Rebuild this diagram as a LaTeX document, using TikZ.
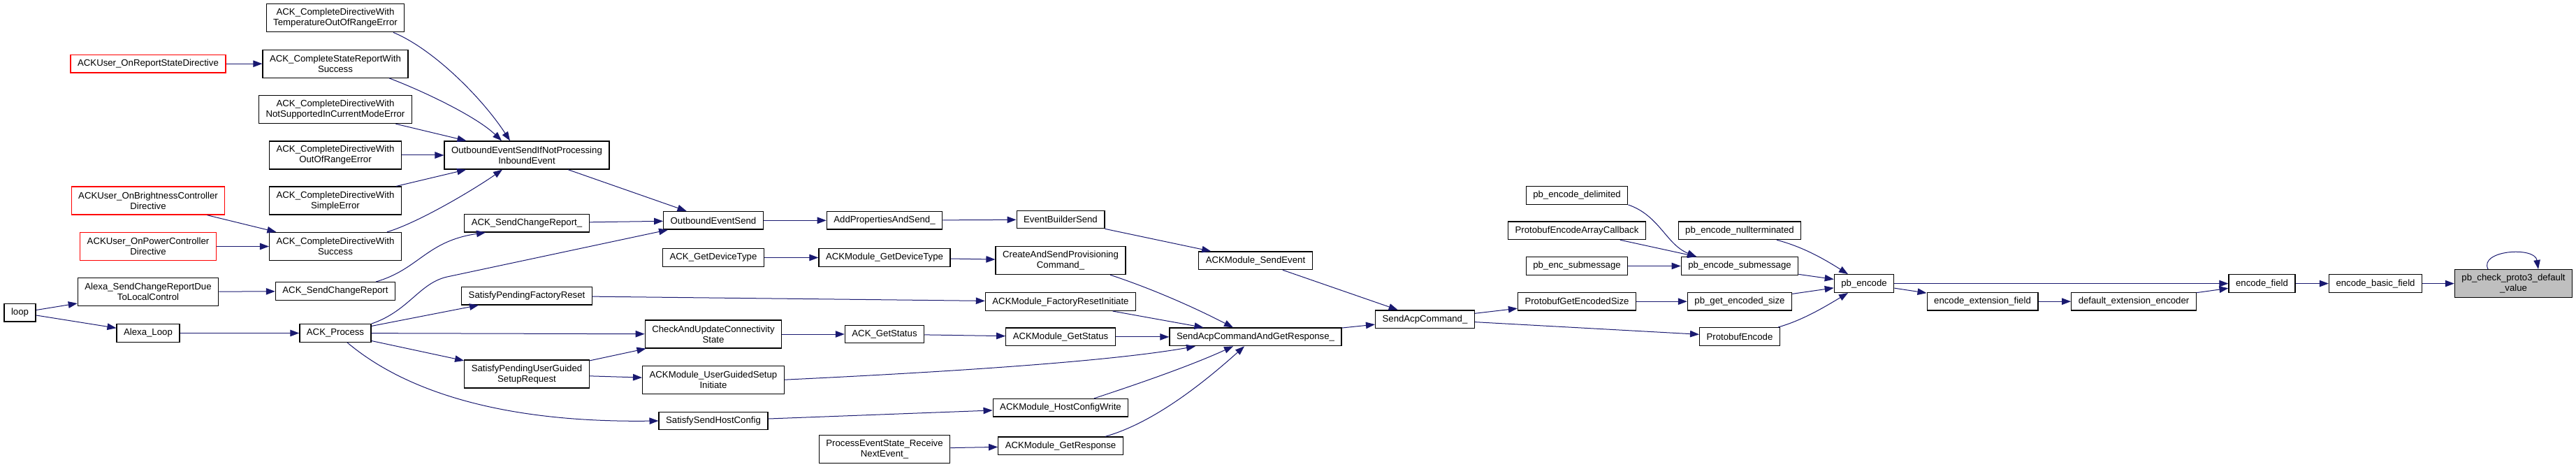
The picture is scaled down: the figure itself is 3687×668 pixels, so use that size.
\documentclass[tikz,border=0pt]{standalone}
\usepackage{fontspec}
\setmainfont{Liberation Sans}
\usepackage{xcolor}
\usepackage{tikz}
\usetikzlibrary{arrows.meta,positioning}
\definecolor{edgeblue}{HTML}{191970}
\definecolor{selgray}{HTML}{BFBFBF}

\begin{document}
\begin{tikzpicture}[x=1pt, y=-1pt, >={Triangle[length=13pt,width=9.5pt]},
  fn/.style={draw=black, line width=1.3pt, fill=white, inner xsep=10pt, inner ysep=3pt,
    minimum height=25.6pt, align=center, font=\fontsize{13.2}{15}\selectfont},
  two/.style={minimum height=40pt},
  fnred/.style={draw=red},
  fnsel/.style={fill=selgray},
  call/.style={->, line width=1pt, draw=edgeblue}]
\useasboundingbox (0,0) rectangle (3687,668);

% Entry point and first callers
\node [fn] (Loop) at (28.5,447.3) {loop};
\node [fn, fnred] (OnRS) at (212,91.2) {ACKUser\_OnReportStateDirective};
\node [fn, two, fnred, below of=OnRS, node distance=195.9pt] (OnBC) {ACKUser\_OnBrightnessController\\Directive};
\node [fn, two, fnred, below of=OnBC, node distance=65.4pt] (OnPC) {ACKUser\_OnPowerController\\Directive};
\node [fn, two, below of=OnPC, node distance=65pt] (ASCRD) {Alexa\_SendChangeReportDue\\ToLocalControl};
\node [fn, below of=ASCRD, node distance=59pt] (ALoop) {Alexa\_Loop};

% ACK_Complete column
\node [fn, two] (CTemp) at (480,25.8) {ACK\_CompleteDirectiveWith\\TemperatureOutOfRangeError};
\node [fn, two, below of=CTemp, node distance=65.4pt] (CSRS) {ACK\_CompleteStateReportWith\\Success};
\node [fn, two, below of=CSRS, node distance=65.4pt] (CNSup) {ACK\_CompleteDirectiveWith\\NotSupportedInCurrentModeError};
\node [fn, two, below of=CNSup, node distance=65.4pt] (COoR) {ACK\_CompleteDirectiveWith\\OutOfRangeError};
\node [fn, two, below of=COoR, node distance=65.1pt] (CSimp) {ACK\_CompleteDirectiveWith\\SimpleError};
\node [fn, two, below of=CSimp, node distance=65.4pt] (CSucc) {ACK\_CompleteDirectiveWith\\Success};
\node [fn, below of=CSucc, node distance=64pt] (SCR) {ACK\_SendChangeReport};
\node [fn, right of=ALoop, node distance=268pt] (Proc) {ACK\_Process};

% Outbound event side
\node [fn, two, right of=COoR, node distance=274pt] (OESIf) {OutboundEventSendIfNotProcessing\\InboundEvent};
\node [fn, below of=OESIf, node distance=97.1pt] (SCRu) {ACK\_SendChangeReport\_};
\node [fn, below of=SCRu, node distance=104pt] (SPFR) {SatisfyPendingFactoryReset};
\node [fn, two, below of=SPFR, node distance=112pt] (SPUG) {SatisfyPendingUserGuided\\SetupRequest};

\node [fn] (OES) at (1021,315.3) {OutboundEventSend};
\node [fn, below of=OES, node distance=53.2pt] (GDT) {ACK\_GetDeviceType};
\node [fn, two, below of=GDT, node distance=109.5pt] (CAU) {CheckAndUpdateConnectivity\\State};
\node [fn, two, below of=CAU, node distance=65.2pt] (UGSI) {ACKModule\_UserGuidedSetup\\Initiate};
\node [fn, below of=UGSI, node distance=58.8pt] (SSHC) {SatisfySendHostConfig};

\node [fn, right of=OES, node distance=245pt] (APS) {AddPropertiesAndSend\_};
\node [fn, right of=GDT, node distance=245pt] (MGDT) {ACKModule\_GetDeviceType};
\node [fn, right of=CAU, node distance=245pt] (GetSt) {ACK\_GetStatus};
\node [fn, two] (PES) at (1266,642.3) {ProcessEventState\_Receive\\NextEvent\_};

% ACKModule column
\node [fn] (EBS) at (1518,314) {EventBuilderSend};
\node [fn, two, below of=EBS, node distance=58.6pt] (CSPC) {CreateAndSendProvisioning\\Command\_};
\node [fn, below of=CSPC, node distance=59pt] (FRI) {ACKModule\_FactoryResetInitiate};
\node [fn, below of=FRI, node distance=50.3pt] (MGetSt) {ACKModule\_GetStatus};
\node [fn, below of=MGetSt, node distance=101.4pt] (HCW) {ACKModule\_HostConfigWrite};
\node [fn, below of=HCW, node distance=54.5pt] (GResp) {ACKModule\_GetResponse};

\node [fn] (MSE) at (1797,372.8) {ACKModule\_SendEvent};
\node [fn, right of=MGetSt, node distance=279pt] (SACGR) {SendAcpCommandAndGetResponse\_};
\node [fn] (SAC) at (2039.5,456.7) {SendAcpCommand\_};

% Encoder side
\node [fn] (PEDel) at (2257,279.5) {pb\_encode\_delimited};
\node [fn, below of=PEDel, node distance=50.3pt] (PEAC) {ProtobufEncodeArrayCallback};
\node [fn, below of=PEAC, node distance=50.7pt] (PEncSub) {pb\_enc\_submessage};
\node [fn, below of=PEncSub, node distance=50.7pt] (PGES) {ProtobufGetEncodedSize};
\node [fn, right of=PEAC, node distance=233pt] (PENull) {pb\_encode\_nullterminated};
\node [fn, right of=PEncSub, node distance=233pt] (PESub) {pb\_encode\_submessage};
\node [fn, right of=PGES, node distance=233pt] (PGetSize) {pb\_get\_encoded\_size};
\node [fn, below of=PGetSize, node distance=50.3pt] (PEnc) {ProtobufEncode};
\node [fn] (PbEnc) at (2668,405.6) {pb\_encode};
\node [fn] (EEF) at (2837.5,431.2) {encode\_extension\_field};
\node [fn, right of=EEF, node distance=216.5pt] (DEE) {default\_extension\_encoder};
\node [fn, right of=PbEnc, node distance=569.5pt] (EF) {encode\_field};
\node [fn, right of=EF, node distance=162.5pt] (EBF) {encode\_basic\_field};
\node [fn, two, fnsel, right of=EBF, node distance=197.5pt] (Check) {pb\_check\_proto3\_default\\\_value};

% Calls from the entry points
\draw[call] (Loop) -- (ASCRD);
\draw[call] (Loop) -- (ALoop);
\draw[call] (ALoop) -- (Proc);
\draw[call] (ASCRD) -- (SCR);
\draw[call] (OnRS) -- (CSRS);
\draw[call] (OnBC) -- (CSucc);
\draw[call] (OnPC) -- (CSucc);

% Into OutboundEventSendIfNotProcessingInboundEvent
\draw[call] ([xshift=83pt]CTemp.south) .. controls (620,70) and (690,140) .. ([xshift=-24pt]OESIf.north);
\draw[call] ([xshift=77pt]CSRS.south) .. controls (600,128) and (680,165) .. ([xshift=-36pt]OESIf.north);
\draw[call] (CNSup) -- (OESIf);
\draw[call] (COoR) -- (OESIf);
\draw[call] (CSimp) -- (OESIf);
\draw[call] ([xshift=74pt]CSucc.north) .. controls (600,318) and (680,270) .. ([xshift=-35pt]OESIf.south);

% Out of ACK_Process
\draw[call] ([xshift=58pt]SCR.north) .. controls (600,385) and (610,345) .. ([xshift=-59pt]SCRu.south);
\draw[call] (Proc.north east) .. controls (585,445) and (600,405) .. (640,396) -- ([xshift=-65pt]OES.south);
\draw[call] (Proc) -- (SPFR);
\draw[call] (Proc) -- (CAU);
\draw[call] (Proc) -- (SPUG);
\draw[call] ([xshift=17pt]Proc.south) .. controls (580,560) and (720,605) .. (SSHC.west);

% Middle columns
\draw[call] (OESIf) -- (OES);
\draw[call] (SCRu) -- (OES);
\draw[call] (SPFR) -- (FRI);
\draw[call] (SPUG) -- (CAU);
\draw[call] (SPUG) -- (UGSI);
\draw[call] (OES) -- (APS);
\draw[call] (GDT) -- (MGDT);
\draw[call] (CAU) -- (GetSt);
\draw[call] (SSHC) -- (HCW);
\draw[call] (APS) -- (EBS);
\draw[call] (MGDT) -- (CSPC);
\draw[call] (GetSt) -- (MGetSt);
\draw[call] (PES) -- (GResp);

% Into SendAcpCommandAndGetResponse_
\draw[call] ([xshift=71pt]CSPC.south) .. controls (1640,410) and (1700,435) .. ([xshift=-32pt]SACGR.north);
\draw[call] (FRI) -- (SACGR);
\draw[call] (MGetSt) -- (SACGR);
\draw[call] (UGSI.east) .. controls (1400,530) and (1600,515) .. ([xshift=-86pt]SACGR.south);
\draw[call] ([xshift=48pt]HCW.north) .. controls (1620,552) and (1700,525) .. ([xshift=-32pt]SACGR.south);
\draw[call] ([xshift=64pt]GResp.north) .. controls (1650,605) and (1720,550) .. ([xshift=-16pt]SACGR.south);
\draw[call] (EBS) -- (MSE);
\draw[call] (MSE) -- (SAC);
\draw[call] (SACGR) -- (SAC);

% Encoder calls
\draw[call] (SAC) -- (PGES);
\draw[call] (SAC) -- (PEnc);
\draw[call] (PEDel.south east) .. controls (2375,308) and (2385,350) .. ([xshift=-62pt]PESub.north);
\draw[call] (PEAC) -- (PESub);
\draw[call] (PEncSub) -- (PESub);
\draw[call] (PGES) -- (PGetSize);
\draw[call] ([xshift=53pt]PENull.south) .. controls (2580,353) and (2610,370) .. ([xshift=-23pt]PbEnc.north);
\draw[call] (PESub) -- (PbEnc);
\draw[call] (PGetSize) -- (PbEnc);
\draw[call] ([xshift=55pt]PEnc.north) .. controls (2580,458) and (2610,440) .. ([xshift=-23pt]PbEnc.south);
\draw[call] (PbEnc) -- (EF);
\draw[call] (PbEnc) -- (EEF);
\draw[call] (EEF) -- (DEE);
\draw[call] (DEE) -- (EF);
\draw[call] (EF) -- (EBF);
\draw[call] (EBF) -- (Check);
\draw[call] ([xshift=-36.5pt]Check.north) .. controls (3548,358) and (3628,352) .. ([xshift=35.5pt]Check.north);
\end{tikzpicture}
\end{document}
